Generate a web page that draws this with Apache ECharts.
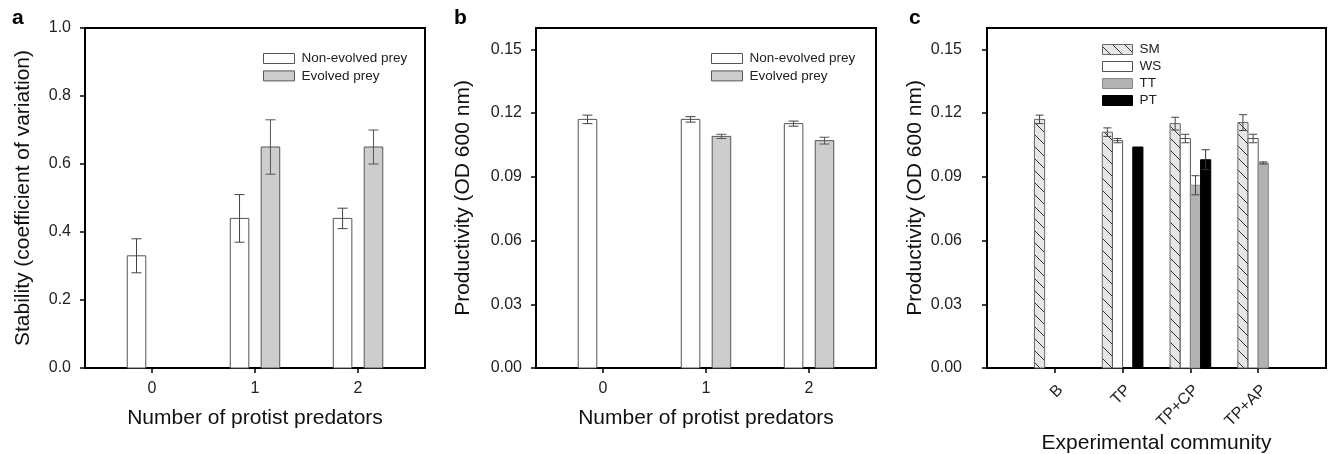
<!DOCTYPE html>
<html>
<head>
<meta charset="utf-8">
<title>Stability and productivity</title>
<script src="https://cdn.jsdelivr.net/npm/echarts@6/dist/echarts.min.js"></script>
<style>
  html, body { margin: 0; padding: 0; background: #fff; }
  #chart { width: 1336px; height: 454px; }
</style>
</head>
<body>
<div id="chart"></div>
<script>
// a: stability (coefficient of variation)
const predators = [0, 1, 2];
const stabNonEvolved = [0.33, 0.44, 0.44];
const stabNonEvolvedErr = [0.05, 0.07, 0.03];
const stabEvolved = [null, 0.65, 0.65];
const stabEvolvedErr = [null, 0.08, 0.05];

// b: productivity (OD 600 nm)
const prodNonEvolved = [0.117, 0.117, 0.115];
const prodNonEvolvedErr = [0.002, 0.0013, 0.0012];
const prodEvolved = [null, 0.109, 0.107];
const prodEvolvedErr = [null, 0.001, 0.0016];

// c: productivity per experimental community
const communities = ['B', 'TP', 'TP+CP', 'TP+AP'];
const communityPos = [0, 1, 2, 3];
const smValues = [0.117, 0.111, 0.115, 0.1155];
const smErr = [0.002, 0.002, 0.003, 0.0037];
const wsValues = [null, 0.107, 0.108, 0.108];
const wsErr = [null, 0.001, 0.002, 0.002];
const ttValues = [null, null, 0.086, 0.0965];
const ttErr = [null, null, 0.0045, 0.0005];
const ptValues = [null, 0.104, 0.098, null];
const ptErr = [null, 0, 0.0047, null];

const yTicksA = [0, 0.2, 0.4, 0.6, 0.8, 1.0];
const yTicksBC = [0, 0.03, 0.06, 0.09, 0.12, 0.15];

const FONT = "'Liberation Sans', Arial, sans-serif";
const HATCH_STEP = 12;

function toData(xs, vals, errs) {
  const out = [];
  xs.forEach((x, i) => {
    if (vals[i] != null) out.push([x, vals[i], errs[i] || 0]);
  });
  return out;
}

// diagonal "\" hatch lines clipped to a rectangle (pixel space)
function hatchLines(x0, y0, x1, y1, color) {
  const lines = [];
  let c = Math.ceil((y0 - x1) / HATCH_STEP) * HATCH_STEP;
  for (; c < y1 - x0; c += HATCH_STEP) {
    const xa = Math.max(x0, y0 - c);
    const xb = Math.min(x1, y1 - c);
    if (xb - xa > 0.5) {
      lines.push({
        type: 'line',
        shape: { x1: xa, y1: xa + c, x2: xb, y2: xb + c },
        style: { stroke: color, lineWidth: 1 }
      });
    }
  }
  return lines;
}

function barRenderer(offset, width, look) {
  return function (params, api) {
    const x = api.value(0), v = api.value(1), e = api.value(2);
    const tl = api.coord([x + offset - width / 2, v]);
    const br = api.coord([x + offset + width / 2, 0]);
    const shape = { x: tl[0], y: tl[1], width: br[0] - tl[0], height: br[1] - tl[1] };
    const children = [{ type: 'rect', shape, style: { fill: look.fill } }];
    if (look.hatch) {
      children.push(...hatchLines(shape.x, shape.y, shape.x + shape.width, shape.y + shape.height, '#333'));
    }
    children.push({ type: 'rect', shape, style: { fill: 'none', stroke: look.stroke, lineWidth: 1 } });
    if (e > 0) {
      const top = api.coord([x + offset, v + e]);
      const bot = api.coord([x + offset, v - e]);
      const cx = top[0], hw = look.cap / 2;
      const st = { stroke: look.err, lineWidth: 1 };
      children.push({ type: 'line', shape: { x1: cx, y1: top[1], x2: cx, y2: bot[1] }, style: st });
      children.push({ type: 'line', shape: { x1: cx - hw, y1: top[1], x2: cx + hw, y2: top[1] }, style: st });
      children.push({ type: 'line', shape: { x1: cx - hw, y1: bot[1], x2: cx + hw, y2: bot[1] }, style: st });
    }
    return { type: 'group', children };
  };
}

function barSeries(name, idx, data, offset, width, look) {
  return {
    name, type: 'custom', xAxisIndex: idx, yAxisIndex: idx,
    encode: { x: 0, y: 1 },
    renderItem: barRenderer(offset, width, look),
    data
  };
}

const lookWhite = { fill: '#fff', stroke: '#555', err: '#444', cap: 10 };
const lookGray = { fill: '#cdcdcd', stroke: '#555', err: '#555', cap: 10 };
const lookSM = { fill: '#e6e6e6', stroke: '#666', err: '#444', cap: 8, hatch: true };
const lookWS = { fill: '#fff', stroke: '#555', err: '#444', cap: 8 };
const lookTT = { fill: '#b2b2b2', stroke: '#888', err: '#444', cap: 8 };
const lookPT = { fill: '#000', stroke: '#000', err: '#333', cap: 8 };

const axisLine = { onZero: false, lineStyle: { color: '#000', width: 2 } };
const tickStyle = { color: '#000', width: 1.5 };
const labelStyle = { fontSize: 16, color: '#222', fontFamily: FONT };
const nameStyle = { fontSize: 21, color: '#111', fontFamily: FONT };

function xAxis(idx, min, max, ticks, name, extra) {
  return Object.assign({
    gridIndex: idx, type: 'value', min, max,
    axisLine,
    axisTick: { customValues: ticks, length: 5, lineStyle: tickStyle },
    axisLabel: Object.assign({ customValues: ticks, margin: 13 }, labelStyle),
    splitLine: { show: false },
    name, nameLocation: 'middle', nameGap: 40, nameTextStyle: nameStyle
  }, extra || {});
}

function yAxis(idx, max, ticks, digits, name, margin, gap) {
  return {
    gridIndex: idx, type: 'value', min: 0, max,
    axisLine,
    axisTick: { customValues: ticks, length: 5, lineStyle: tickStyle },
    axisLabel: Object.assign({ customValues: ticks, margin, formatter: v => v.toFixed(digits) }, labelStyle),
    splitLine: { show: false },
    name, nameLocation: 'middle', nameGap: gap, nameTextStyle: nameStyle
  };
}

function legendRows(x, y, w, h, step, rows) {
  const els = [];
  rows.forEach((r, i) => {
    const yy = y + i * step;
    els.push({ type: 'rect', shape: { x, y: yy, width: w, height: h }, style: { fill: r.look.fill } });
    if (r.look.hatch) els.push(...hatchLines(x, yy, x + w, yy + h, '#333'));
    els.push({ type: 'rect', shape: { x, y: yy, width: w, height: h }, style: { fill: 'none', stroke: r.look.stroke, lineWidth: 1 } });
    els.push({
      type: 'text', x: x + w + 7, y: yy + h / 2,
      style: { text: r.name, fontSize: 13.5, fontFamily: FONT, fill: '#222', verticalAlign: 'middle' }
    });
  });
  return els;
}

function panelLabel(text, x) {
  return { type: 'text', x, y: 29, style: { text, fontSize: 21, fontWeight: 'bold', fontFamily: FONT, fill: '#000', verticalAlign: 'bottom' } };
}

const gridBase = { top: 28, height: 340, show: true, borderColor: '#000', borderWidth: 2, backgroundColor: 'transparent', containLabel: false, outerBoundsMode: 'none' };

const chart = echarts.init(document.getElementById('chart'), null, { renderer: 'canvas' });

const option = {
  animation: false,
  backgroundColor: '#fff',
  grid: [
    Object.assign({ left: 85, width: 340 }, gridBase),
    Object.assign({ left: 536, width: 340 }, gridBase),
    Object.assign({ left: 987, width: 339 }, gridBase)
  ],
  xAxis: [
    xAxis(0, -0.65, 2.65, predators, 'Number of protist predators'),
    xAxis(1, -0.65, 2.65, predators, 'Number of protist predators'),
    xAxis(2, -1, 4, communityPos, 'Experimental community', {
      axisLabel: Object.assign({
        customValues: communityPos, margin: 14, rotate: 45, verticalAlign: 'top',
        formatter: v => communities[v]
      }, labelStyle),
      nameGap: 65,
      nameMoveOverlap: false
    })
  ],
  yAxis: [
    yAxis(0, 1.0, yTicksA, 1, 'Stability (coefficient of variation)', 14, 51),
    yAxis(1, 0.16, yTicksBC, 2, 'Productivity (OD 600 nm)', 14, 62),
    yAxis(2, 0.16, yTicksBC, 2, 'Productivity (OD 600 nm)', 25, 61)
  ],
  graphic: [
    panelLabel('a', 12),
    panelLabel('b', 454),
    panelLabel('c', 909),
    ...legendRows(263.5, 53.5, 31, 10, 17.4, [
      { name: 'Non-evolved prey', look: lookWhite },
      { name: 'Evolved prey', look: lookGray }
    ]),
    ...legendRows(711.5, 53.5, 31, 10, 17.4, [
      { name: 'Non-evolved prey', look: lookWhite },
      { name: 'Evolved prey', look: lookGray }
    ]),
    ...legendRows(1102.5, 44.5, 30, 10, 17, [
      { name: 'SM', look: lookSM },
      { name: 'WS', look: lookWS },
      { name: 'TT', look: lookTT },
      { name: 'PT', look: lookPT }
    ])
  ],
  series: [
    barSeries('Non-evolved prey', 0, toData(predators, stabNonEvolved, stabNonEvolvedErr), -0.15, 0.18, lookWhite),
    barSeries('Evolved prey', 0, toData(predators, stabEvolved, stabEvolvedErr), 0.15, 0.18, lookGray),
    barSeries('Non-evolved prey', 1, toData(predators, prodNonEvolved, prodNonEvolvedErr), -0.15, 0.18, lookWhite),
    barSeries('Evolved prey', 1, toData(predators, prodEvolved, prodEvolvedErr), 0.15, 0.18, lookGray),
    barSeries('SM', 2, toData(communityPos, smValues, smErr), -0.225, 0.15, lookSM),
    barSeries('WS', 2, toData(communityPos, wsValues, wsErr), -0.075, 0.15, lookWS),
    barSeries('TT', 2, toData(communityPos, ttValues, ttErr), 0.075, 0.15, lookTT),
    barSeries('PT', 2, toData(communityPos, ptValues, ptErr), 0.225, 0.15, lookPT)
  ]
};

chart.setOption(option);
window.addEventListener('resize', () => chart.resize());
</script>
</body>
</html>
